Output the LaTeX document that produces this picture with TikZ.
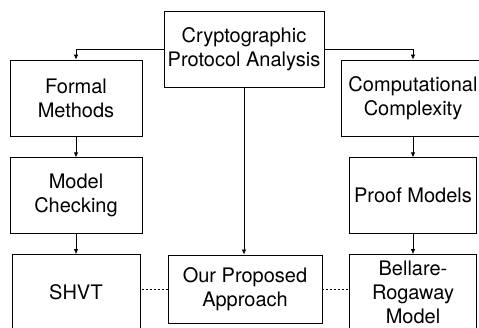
\documentclass[tikz,border=0pt]{standalone}
\usepackage{fontspec}
\setmainfont{TeX Gyre Heros}
\usepackage{tikz}
\usetikzlibrary{positioning,arrows.meta}

\begin{document}
\begin{tikzpicture}[
  x=1pt,y=-1pt,
  node distance=20pt and 20pt,
  box/.style={draw,line width=0.8pt,inner sep=0pt,minimum height=76pt,
    font=\fontsize{20}{24}\selectfont,align=center},
  arr/.style={-{Latex[length=5pt,width=4.5pt]},line width=0.8pt},
  link/.style={line width=0.8pt,dash pattern=on 2pt off 2pt}
]
\useasboundingbox (0,0) rectangle (479,328);
\node[box,minimum width=160pt] (cpa) at (244,49) {Cryptographic\\Protocol Analysis};
\node[box,minimum width=132pt] (fm) at (76,98) {Formal\\Methods};
\node[box,minimum width=144pt] (cc) at (413,98) {Computational\\Complexity};
\node[box,minimum width=132pt,below=21pt of fm] (mc) {Model\\Checking};
\node[box,minimum width=128pt,below=20pt of mc] (shvt) {SHVT};
\node[box,minimum width=127pt,below=21pt of cc] (pm) {Proof Models};
\node[box,minimum width=127pt,below=20pt of pm] (brm) {Bellare-\\Rogaway\\Model};
\node[box,minimum width=154pt,minimum height=68pt] (opa) at (245,289) {Our Proposed\\Approach};
\draw[arr] (cpa.west) -| (fm.north);
\draw[arr] (cpa.east) -| (cc.north);
\draw[arr] (cpa.south) -- (cpa.south |- opa.north);
\draw[arr] (fm) -- (mc);
\draw[arr] (mc) -- (shvt);
\draw[arr] (cc) -- (pm);
\draw[arr] (pm) -- (brm);
\draw[link] (opa.west) -- (opa.west -| shvt.east);
\draw[link] (opa.east) -- (opa.east -| brm.west);
\end{tikzpicture}
\end{document}
